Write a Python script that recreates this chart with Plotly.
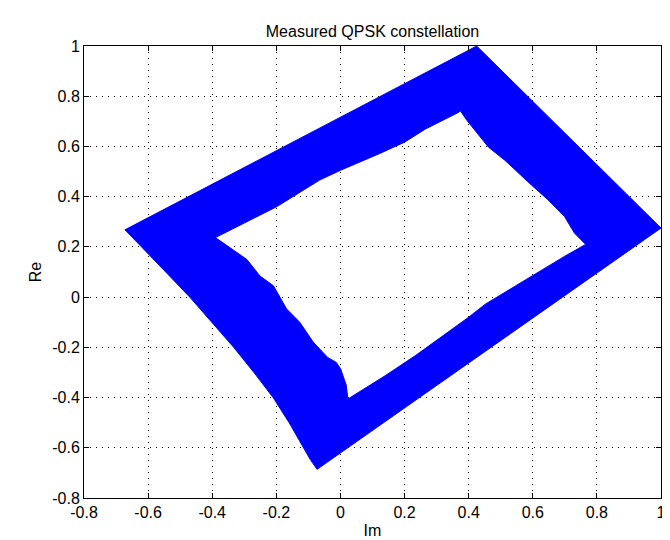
import plotly.graph_objects as go

# Axis ticks
im_ticks = [-0.8, -0.6, -0.4, -0.2, 0, 0.2, 0.4, 0.6, 0.8, 1]
im_tick_labels = ["-0.8", "-0.6", "-0.4", "-0.2", "0", "0.2", "0.4", "0.6", "0.8", "1"]
re_ticks = [-0.8, -0.6, -0.4, -0.2, 0, 0.2, 0.4, 0.6, 0.8, 1]
re_tick_labels = ["-0.8", "-0.6", "-0.4", "-0.2", "0", "0.2", "0.4", "0.6", "0.8", "1"]

# Outer envelope of the measured trajectories (Im, Re)
outer_im = [-0.672, 0.425, 1.0, -0.073, -0.095, -0.116, -0.16, -0.21, -0.27, -0.333,
            -0.40, -0.47, -0.545, -0.621]
outer_re = [0.268, 1.0, 0.275, -0.686, -0.645, -0.6, -0.5, -0.4, -0.3, -0.2,
            -0.1, 0.0, 0.1, 0.2]

# Inner (empty) region boundary of the trajectories (Im, Re)
inner_im = [-0.39, -0.344, -0.292, -0.251, -0.209, -0.168, -0.127, -0.085, -0.04,
            -0.013, 0.0, 0.018, 0.023, 0.018, 0.142, 0.235, 0.40, 0.452, 0.596,
            0.70, 0.765, 0.73, 0.699, 0.648, 0.596, 0.513, 0.462, 0.395, 0.374,
            0.369, 0.266, 0.2, 0.121, 0.0, -0.065, -0.199, -0.30]
inner_re = [0.237, 0.196, 0.15, 0.084, 0.045, -0.047, -0.1, -0.179, -0.24,
            -0.26, -0.284, -0.35, -0.403, -0.41, -0.311, -0.232, -0.08, -0.028, 0.084,
            0.163, 0.21, 0.255, 0.321, 0.387, 0.446, 0.545, 0.597, 0.703, 0.742,
            0.736, 0.67, 0.617, 0.571, 0.505, 0.466, 0.36, 0.295]

# One closed path: outer ring, slit to inner ring (opposite winding -> hole)
path_x = outer_im + [outer_im[0]] + inner_im + [inner_im[0], outer_im[0]]
path_y = outer_re + [outer_re[0]] + inner_re + [inner_re[0], outer_re[0]]

fig = go.Figure()
fig.add_trace(go.Scatter(
    x=path_x, y=path_y, mode="lines", fill="toself",
    fillcolor="#0000FF", line=dict(color="#0000FF", width=1),
    hoverinfo="skip", showlegend=False,
))

font_family = "Liberation Sans, Arial, sans-serif"
axis_common = dict(
    showline=True, linecolor="black", linewidth=1, mirror="allticks",
    ticks="inside", ticklen=5, tickwidth=1, tickcolor="black",
    showgrid=True, gridcolor="black", gridwidth=1, griddash="1px,5px",
    zeroline=False, tickfont=dict(family=font_family, size=16, color="black"),
)

fig.update_layout(
    width=670, height=540,
    margin=dict(l=76, r=13, t=38, b=46),
    paper_bgcolor="white", plot_bgcolor="white",
    title=dict(text="Measured QPSK constellation", x=0.5, xanchor="center",
               xref="paper", y=1, yref="paper", yanchor="bottom", pad=dict(b=9),
               font=dict(family=font_family, size=16, color="black")),
    xaxis=dict(range=[-0.8, 1], tickvals=im_ticks, ticktext=im_tick_labels,
               title=dict(text="Im", font=dict(family=font_family, size=16, color="black"),
                          standoff=4),
               **axis_common),
    yaxis=dict(range=[-0.8, 1], tickvals=re_ticks, ticktext=re_tick_labels,
               title=dict(text="Re", font=dict(family=font_family, size=16, color="black"),
                          standoff=6),
               **axis_common),
)

fig.write_html("out.html")
